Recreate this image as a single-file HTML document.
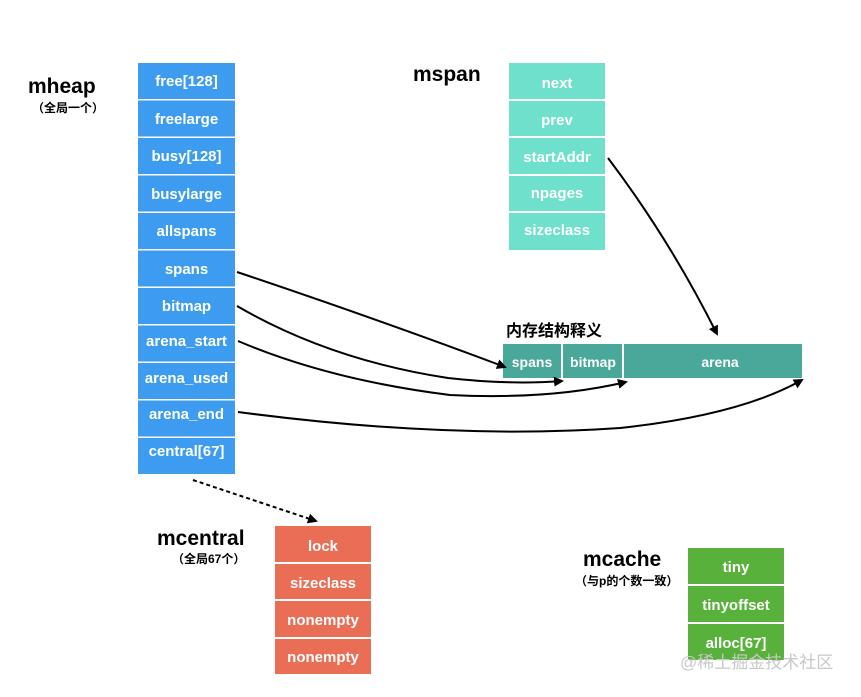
<!DOCTYPE html>
<html><head><meta charset="utf-8"><style>
body{margin:0;background:#fff;}
svg text{font-family:"Liberation Sans","Noto Sans CJK SC",sans-serif;}
</style></head><body>
<svg width="861" height="692" viewBox="0 0 861 692" xmlns="http://www.w3.org/2000/svg">
<defs>
<marker id="a" markerWidth="10" markerHeight="10" refX="8" refY="5" orient="auto" markerUnits="userSpaceOnUse">
<path d="M0,0 L10,5 L0,10 z" fill="#000"/></marker>
</defs>
<g font-size="15" font-weight="bold" fill="#fff" text-anchor="middle">
<rect x="138" y="63" width="97" height="36" fill="#3d9cf0"/><text x="186.5" y="86" fill="#fff">free[128]</text>
<rect x="138" y="100.5" width="97" height="36" fill="#3d9cf0"/><text x="186.5" y="124" fill="#fff">freelarge</text>
<rect x="138" y="138" width="97" height="36" fill="#3d9cf0"/><text x="186.5" y="161" fill="#fff">busy[128]</text>
<rect x="138" y="175.5" width="97" height="36" fill="#3d9cf0"/><text x="186.5" y="199" fill="#fff">busylarge</text>
<rect x="138" y="213" width="97" height="36" fill="#3d9cf0"/><text x="186.5" y="236" fill="#fff">allspans</text>
<rect x="138" y="250.5" width="97" height="36" fill="#3d9cf0"/><text x="186.5" y="274" fill="#fff">spans</text>
<rect x="138" y="288" width="97" height="36" fill="#3d9cf0"/><text x="186.5" y="311" fill="#fff">bitmap</text>
<rect x="138" y="325.5" width="97" height="36" fill="#3d9cf0"/><text x="186.5" y="346" fill="#fff">arena_start</text>
<rect x="138" y="363" width="97" height="36" fill="#3d9cf0"/><text x="186.5" y="383" fill="#fff">arena_used</text>
<rect x="138" y="400.5" width="97" height="36" fill="#3d9cf0"/><text x="186.5" y="419" fill="#fff">arena_end</text>
<rect x="138" y="438" width="97" height="36" fill="#3d9cf0"/><text x="186.5" y="456" fill="#fff">central[67]</text>
<rect x="509" y="63" width="96" height="36" fill="#6ee0cc"/><text x="557" y="88">next</text>
<rect x="509" y="101" width="96" height="35" fill="#6ee0cc"/><text x="557" y="125">prev</text>
<rect x="509" y="138" width="96" height="36" fill="#6ee0cc"/><text x="557" y="162">startAddr</text>
<rect x="509" y="176" width="96" height="35" fill="#6ee0cc"/><text x="557" y="198">npages</text>
<rect x="509" y="213" width="96" height="37" fill="#6ee0cc"/><text x="557" y="235">sizeclass</text>
<rect x="503" y="344" width="58" height="34" fill="#4aa89a"/><text x="532" y="367" font-size="14">spans</text>
<rect x="563" y="344" width="59" height="34" fill="#4aa89a"/><text x="593" y="367" font-size="14">bitmap</text>
<rect x="624" y="344" width="178" height="34" fill="#4aa89a"/><text x="720" y="367" font-size="14">arena</text>
<rect x="275" y="526" width="96" height="36" fill="#ea6d56"/><text x="323" y="551">lock</text>
<rect x="275" y="564" width="96" height="35" fill="#ea6d56"/><text x="323" y="588">sizeclass</text>
<rect x="275" y="601" width="96" height="36" fill="#ea6d56"/><text x="323" y="625">nonempty</text>
<rect x="275" y="639" width="96" height="35" fill="#ea6d56"/><text x="323" y="662">nonempty</text>
<rect x="688" y="548" width="96" height="36" fill="#58b13a"/><text x="736" y="572">tiny</text>
<rect x="688" y="586" width="96" height="36" fill="#58b13a"/><text x="736" y="610">tinyoffset</text>
<rect x="688" y="624" width="96" height="36" fill="#58b13a"/><text x="736" y="648">alloc[67]</text>
</g>
<g fill="#000" font-weight="bold">
<text x="28" y="93" font-size="21">mheap</text>
<text x="32" y="112" font-size="12">（全局一个）</text>
<text x="413" y="81" font-size="21">mspan</text>
<text x="506" y="336" font-size="16">内存结构释义</text>
<text x="157" y="545" font-size="21">mcentral</text>
<text x="172" y="563" font-size="12">（全局67个）</text>
<text x="583" y="566" font-size="21">mcache</text>
<text x="575" y="585" font-size="12">（与p的个数一致）</text>
</g>
<text x="680" y="668" font-size="17" fill="#c8c8c8" font-family="Liberation Sans,Noto Sans CJK SC,sans-serif">@稀土掘金技术社区</text>
<g fill="none" stroke="#000" stroke-width="2">
<path d="M237,272 Q380,320 505,367" marker-end="url(#a)"/>
<path d="M237,306 Q330,360 448,378 Q510,385 562,381" marker-end="url(#a)"/>
<path d="M238,341 Q330,380 450,395 Q550,400 626,382" marker-end="url(#a)"/>
<path d="M238,412 Q450,440 620,428 Q740,415 802,380" marker-end="url(#a)"/>
<path d="M608,158 Q670,240 717,334" marker-end="url(#a)"/>
<path d="M193,480 L316,521" stroke-dasharray="4,3" marker-end="url(#a)"/>
</g>
</svg>
</body></html>
